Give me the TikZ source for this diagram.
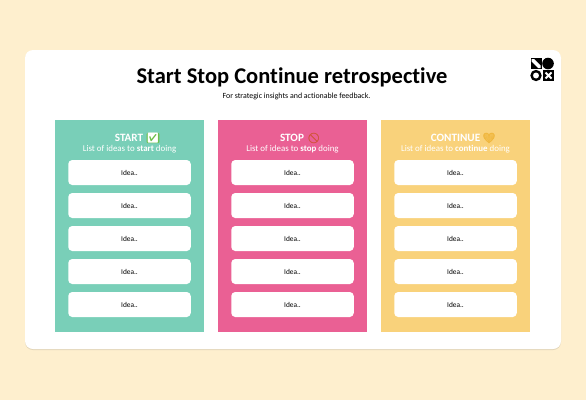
\documentclass[tikz,border=0pt]{standalone}
\usepackage{fontspec}
\setmainfont[Ligatures=CommonOff]{Carlito}
\newfontfamily\emojifont{Noto Emoji}
\newfontfamily\emojibold[FakeBold=3]{Noto Emoji}
\usetikzlibrary{shadows, positioning}
\definecolor{pagebg}{HTML}{FEEFCE}
\definecolor{startcol}{HTML}{79CFB8}
\definecolor{stopcol}{HTML}{EA6094}
\definecolor{contcol}{HTML}{F9D27B}
\definecolor{checkcol}{HTML}{6CBF4B}
\definecolor{bancol}{HTML}{D2553F}
\definecolor{heartcol}{HTML}{F0B840}

\begin{document}
\begin{tikzpicture}[
    x=1pt, y=-1pt,
    sheet/.style={rectangle, fill=white, rounded corners=8pt, minimum width=536pt, minimum height=299pt, inner sep=0pt,
        drop shadow={shadow xshift=0pt, shadow yshift=-1pt, fill=black!35!pagebg, opacity=0.3}},
    panel/.style={rectangle, minimum width=149pt, minimum height=212pt, inner sep=0pt},
    card/.style={rectangle, fill=white, rounded corners=4pt, minimum width=122.5pt, minimum height=25pt, inner sep=0pt, font=\fontsize{7.4}{9}\selectfont},
    head/.style={text=white, inner sep=0pt, font=\fontsize{11.2}{13}\bfseries\selectfont},
    subhead/.style={text=white, inner sep=0pt, font=\fontsize{8.9}{11}\selectfont},
    emoji/.style={inner sep=0pt, font=\fontsize{10}{12}\selectfont}
]
    \useasboundingbox (0,0) rectangle (586,400);
    \fill[pagebg] (0,0) rectangle (586,400);
    % White sheet
    \node[sheet] (sheet) at (293,199.5) {};
    % Title
    \node[inner sep=0pt, font=\fontsize{22.5}{26}\bfseries\selectfont] (title) at (292,77) {Start Stop Continue retrospective};
    \node[inner sep=0pt, font=\fontsize{7.9}{9}\selectfont] (subtitle) at (296.5,96) {For strategic insights and actionable feedback.};
    % Panels
    \foreach \name/\col/\xc in {start/startcol/129.5, stop/stopcol/292.5, cont/contcol/455.5} {
        \node[panel, fill=\col] (\name) at (\xc,226) {};
        \foreach \i in {1,...,5} {
            \node[card] (\name\i) at (\xc,172.5+33*\i-33) {Idea..};
        }
    }
    % Panel headings
    \node[head] (starthead) at (129,138) {START};
    \node[emoji, fill=checkcol, rounded corners=1pt, text=white, right=3pt of starthead] (startmark) {\emojifont\symbol{"2705}};
    \node[subhead] (startsub) at (129.5,149) {List of ideas to \textbf{start} doing};
    \node[head] (stophead) at (292,138) {STOP};
    \node[emoji, text=bancol, right=3pt of stophead] (stopmark) {\emojibold\symbol{"1F6AB}};
    \node[subhead] (stopsub) at (292.5,149) {List of ideas to \textbf{stop} doing};
    \node[head] (conthead) at (455.5,138) {CONTINUE};
    \node[emoji, text=heartcol, right=2pt of conthead] (contmark) {\emojibold\symbol{"1F49B}};
    \node[subhead] (contsub) at (455.5,149) {List of ideas to \textbf{continue} doing};
    % Logo
    \fill[black] (530.5,58) rectangle (541.5,69);
    \fill[white] (531.5,59) -- (534,59) -- (540.5,65.5) -- (540.5,68) -- (538,68) -- (531.5,61.5) -- cycle;
    \fill[black] (548,63.5) circle (5.8);
    \draw[black, line width=2.4pt] (536,75.5) circle (4.4);
    \fill[black] (543,70) rectangle (554,81);
    \draw[white, line width=2pt] (545.5,72.5) -- (551.5,78.5) (551.5,72.5) -- (545.5,78.5);
\end{tikzpicture}
\end{document}
